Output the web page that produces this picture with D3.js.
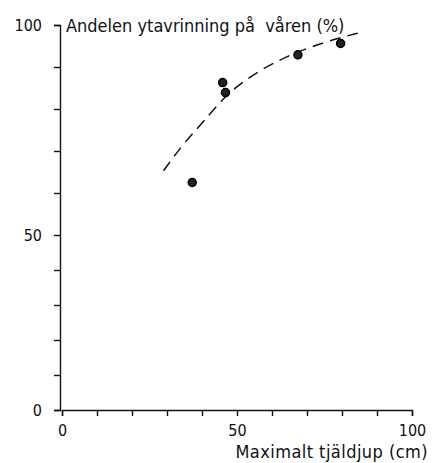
<!DOCTYPE html>
<html>
<head>
<meta charset="utf-8">
<script src="https://cdn.jsdelivr.net/npm/d3@7"></script>
<style>
  body { margin: 0; background: #fff; }
  text { font-family: "DejaVu Sans Condensed", "DejaVu Sans", sans-serif; fill: #111; white-space: pre; }
</style>
</head>
<body>
<svg></svg>
<script>
// measured points: maximalt tjäldjup (cm) vs andel ytavrinning (%)
let depth = [37.2, 45.9, 46.7, 67.4, 79.6];
let runoff = [62.5, 86.3, 83.9, 92.9, 95.6];

// dashed fitted curve
let curveDepth = [29, 34.7, 40.4, 47.5, 56.6, 65.1, 75, 85.6];
let curveRunoff = [65.3, 71.8, 76.9, 84.1, 89.3, 92.9, 96, 98.3];

let xTicks = [0, 10, 20, 30, 40, 50, 60, 70, 80, 90, 100];
let yTicks = [0, 10, 20, 30, 40, 50, 60, 70, 80, 90, 100];
let xTickLabels = [0, 50, 100];
let yTickLabels = [0, 50, 100];

let xTitle = 'Maximalt tjäldjup (cm)';
let yTitle = 'Andelen ytavrinning på  våren (%)';

let width = 432;
let height = 463;

let svg = d3.select('svg')
  .attr('width', width)
  .attr('height', height);

let xScale = d3.scaleLinear().domain([0, 100]).range([62, 412]);
// the original y axis is not evenly spaced, so map 0/50/100 separately
let yScale = d3.scaleLinear().domain([0, 50, 100]).range([410, 235, 25]);

let xAxis = d3.axisBottom(xScale)
  .tickValues(xTicks)
  .tickSize(6)
  .tickPadding(9)
  .tickFormat(d => xTickLabels.includes(d) ? d : '');

let yAxis = d3.axisLeft(yScale)
  .tickValues(yTicks)
  .tickSize(6)
  .tickPadding(12)
  .tickFormat(d => yTickLabels.includes(d) ? d : '');

let gx = svg.append('g')
  .attr('transform', 'translate(0,' + yScale(0) + ')')
  .call(xAxis);

let gy = svg.append('g')
  .attr('transform', 'translate(60,0)')
  .call(yAxis);

[gx, gy].forEach(g => {
  g.selectAll('path, line').attr('stroke', '#111').attr('stroke-width', 1.4);
  g.selectAll('text').style('font-size', '16px').attr('fill', '#111');
});

let line = d3.line()
  .x((d, i) => xScale(curveDepth[i]))
  .y(d => yScale(d))
  .curve(d3.curveBasis);

svg.append('path')
  .datum(curveRunoff)
  .attr('d', line)
  .attr('fill', 'none')
  .attr('stroke', '#111')
  .attr('stroke-width', 1.5)
  .attr('stroke-dasharray', '11,7');

svg.selectAll('circle')
  .data(depth)
  .enter()
  .append('circle')
  .attr('cx', d => xScale(d))
  .attr('cy', (d, i) => yScale(runoff[i]))
  .attr('r', 4)
  .attr('fill', '#222')
  .attr('stroke', '#000')
  .attr('stroke-width', 1.5);

svg.append('text')
  .attr('x', 66)
  .attr('y', 32)
  .style('font-size', '18px')
  .text(yTitle);

svg.append('text')
  .attr('x', 428)
  .attr('y', 458)
  .attr('text-anchor', 'end')
  .style('font-size', '18px')
  .style('letter-spacing', '0.45px')
  .text(xTitle);
</script>
</body>
</html>
